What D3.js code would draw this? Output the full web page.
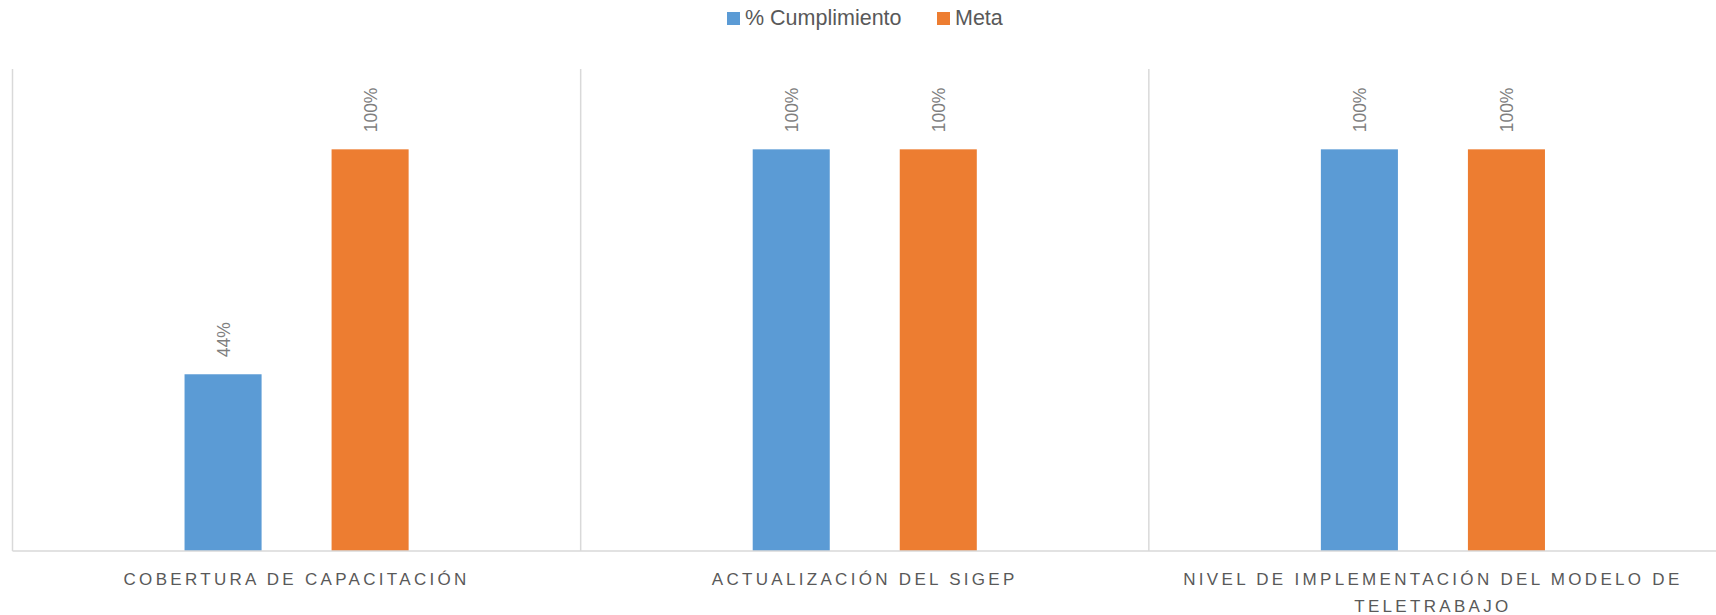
<!DOCTYPE html>
<html>
<head>
<meta charset="utf-8">
<script src="https://cdn.jsdelivr.net/npm/d3@7"></script>
<style>
  body { margin: 0; background: #fff; }
  svg { display: block; font-family: "Liberation Sans", Arial, sans-serif; }
</style>
</head>
<body>
<script>
// data
var categories = ["COBERTURA DE CAPACITACIÓN", "ACTUALIZACIÓN DEL SIGEP", "NIVEL DE IMPLEMENTACIÓN DEL MODELO DE TELETRABAJO"];
var seriesNames = ["% Cumplimiento", "Meta"];
var cumplimiento = [0.44, 1.00, 1.00];
var meta = [1.00, 1.00, 1.00];
var colors = ["#5B9BD5", "#ED7D31"];

var width = 1716, height = 615;
var plot = {left: 12.5, right: 1717, top: 69, bottom: 551};

var svg = d3.select("body").append("svg")
    .attr("width", width)
    .attr("height", height);

var rows = categories.map(function(c, i) {
    return {cat: c, values: [cumplimiento[i], meta[i]]};
});

/* scales */
var x0 = d3.scaleBand().domain(categories).range([plot.left, plot.right]);
var x1 = d3.scaleBand().domain(seriesNames).range([0, x0.bandwidth()])
    .paddingInner(0.476).paddingOuter(1.17);
var y = d3.scaleLinear().domain([0, 1.2]).range([plot.bottom, plot.top]);

/* vertical gridlines at category boundaries */
var bounds = categories.map(function(c) { return x0(c); }).concat([plot.right]);
svg.append("g").selectAll("line")
    .data(bounds)
    .enter().append("line")
    .attr("x1", function(d) { return d; })
    .attr("x2", function(d) { return d; })
    .attr("y1", plot.top)
    .attr("y2", plot.bottom)
    .attr("stroke", "#d9d9d9")
    .attr("stroke-width", 1.5);

/* bars */
var groups = svg.append("g").selectAll("g")
    .data(rows)
    .enter().append("g")
    .attr("transform", function(d) { return "translate(" + x0(d.cat) + ",0)"; });

groups.selectAll("rect")
    .data(function(d) { return d.values.map(function(v, j) { return {name: seriesNames[j], v: v, j: j}; }); })
    .enter().append("rect")
    .attr("x", function(d) { return x1(d.name); })
    .attr("y", function(d) { return y(d.v); })
    .attr("width", x1.bandwidth())
    .attr("height", function(d) { return y(0) - y(d.v); })
    .attr("fill", function(d) { return colors[d.j]; });

/* rotated data labels */
groups.selectAll("text")
    .data(function(d) { return d.values.map(function(v, j) { return {name: seriesNames[j], v: v}; }); })
    .enter().append("text")
    .attr("transform", function(d) {
        return "translate(" + (x1(d.name) + x1.bandwidth() / 2 + 1) + "," + (y(d.v) - 17) + ") rotate(-90)";
    })
    .attr("dominant-baseline", "central")
    .attr("font-size", 17.5)
    .attr("fill", "#7f7f7f")
    .text(function(d) { return d3.format(".0%")(d.v); });

/* baseline */
svg.append("line")
    .attr("x1", plot.left).attr("x2", width)
    .attr("y1", plot.bottom).attr("y2", plot.bottom)
    .attr("stroke", "#d9d9d9")
    .attr("stroke-width", 1.5);

/* category labels, wrapped to the band */
var catLabels = svg.append("g").selectAll("text")
    .data(categories)
    .enter().append("text")
    .attr("x", function(d) { return x0(d) + x0.bandwidth() / 2; })
    .attr("y", 585)
    .attr("text-anchor", "middle")
    .attr("font-size", 17)
    .attr("letter-spacing", 3.3)
    .attr("fill", "#595959")
    .each(function(d) { wrap(d3.select(this), d, x0.bandwidth() - 30); });

function wrap(text, str, maxW) {
    var words = str.split(" ");
    var line = [];
    var cx = text.attr("x");
    var tspan = text.append("tspan").attr("x", cx);
    words.forEach(function(w) {
        line.push(w);
        tspan.text(line.join(" "));
        if (tspan.node().getComputedTextLength() > maxW && line.length > 1) {
            line.pop();
            tspan.text(line.join(" "));
            line = [w];
            tspan = text.append("tspan").attr("x", cx).attr("dy", 27).text(w);
        }
    });
}

/* legend */
var legendX = [727, 937];
var legend = svg.append("g").selectAll("g")
    .data(seriesNames)
    .enter().append("g")
    .attr("transform", function(d, i) { return "translate(" + legendX[i] + ",12)"; });
legend.append("rect")
    .attr("width", 13).attr("height", 13)
    .attr("fill", function(d, i) { return colors[i]; });
legend.append("text")
    .attr("x", 18)
    .attr("y", 13)
    .attr("font-size", 21.5)
    .attr("fill", "#595959")
    .text(function(d) { return d; });
</script>
</body>
</html>
